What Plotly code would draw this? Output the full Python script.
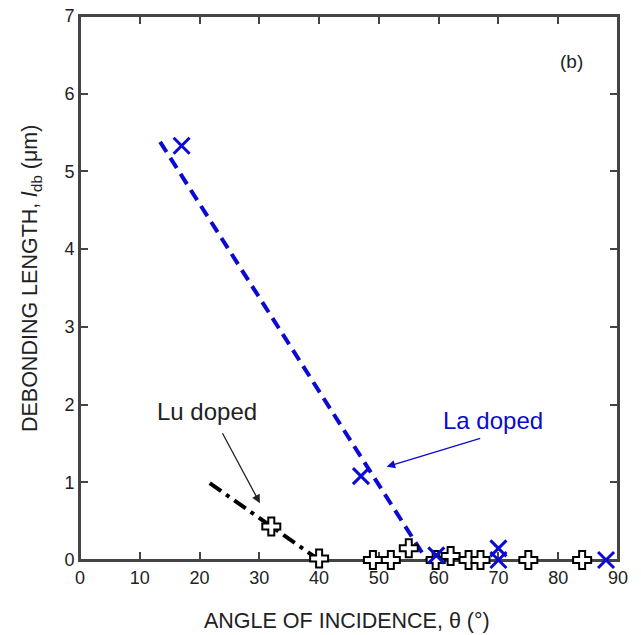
import plotly.graph_objects as go

# Data
lu_angle = [32, 40, 49, 52, 55, 59.5, 62, 65, 67, 75, 84]
lu_length = [0.43, 0.02, 0.0, 0.0, 0.15, 0.0, 0.05, 0.0, 0.0, 0.0, 0.0]

la_angle = [17, 47, 59.6, 70, 70, 88]
la_length = [5.33, 1.08, 0.06, 0.15, 0.0, 0.0]

la_fit_x = [13.4, 58.0]
la_fit_y = [5.38, 0.0]
lu_fit_x = [21.7, 40.0]
lu_fit_y = [0.99, 0.0]

x_ticks = [0, 10, 20, 30, 40, 50, 60, 70, 80, 90]
y_ticks = [0, 1, 2, 3, 4, 5, 6, 7]

BLUE = "#0a0ad2"
FONT = "Liberation Sans, Arial, sans-serif"
TXT = "#222"
AXC = "#444"

fig = go.Figure()

fig.add_trace(go.Scatter(
    x=la_fit_x, y=la_fit_y, mode="lines",
    line=dict(color=BLUE, width=4, dash="12px,7px"),
    showlegend=False, hoverinfo="skip"))
fig.add_trace(go.Scatter(
    x=lu_fit_x, y=lu_fit_y, mode="lines",
    line=dict(color="black", width=4, dash="14px,6px,4px,6px"),
    showlegend=False, hoverinfo="skip"))

fig.add_trace(go.Scatter(
    x=lu_angle, y=lu_length, mode="markers", cliponaxis=False,
    marker=dict(symbol="cross", size=15, color="white",
                line=dict(color="black", width=2)),
    showlegend=False))
fig.add_trace(go.Scatter(
    x=la_angle, y=la_length, mode="markers", cliponaxis=False,
    marker=dict(symbol="x-thin", size=16, color=BLUE,
                line=dict(color=BLUE, width=3)),
    showlegend=False))

axis_common = dict(
    showline=True, linecolor=AXC, linewidth=2, mirror="ticks",
    ticks="inside", ticklen=8, tickwidth=2, tickcolor=AXC,
    showgrid=False, zeroline=False, layer="below traces",
    automargin=False, ticklabeloverflow="allow",
    tickfont=dict(family=FONT, size=18, color=TXT),
)

fig.update_xaxes(range=[0, 90], tickvals=x_ticks, **axis_common)
fig.update_yaxes(range=[0, 7], tickvals=y_ticks, **axis_common)

# plot frame
fig.add_shape(type="rect", xref="paper", yref="paper", x0=0, x1=1, y0=0, y1=1,
              line=dict(color=AXC, width=2), layer="below")

annotations = [
    # axis titles
    dict(x=0.497, y=-0.112, xref="paper", yref="paper",
         text="ANGLE OF INCIDENCE, θ (°)", showarrow=False,
         xanchor="center", yanchor="middle",
         font=dict(family=FONT, size=21.5, color=TXT)),
    dict(x=-0.091, y=0.5165, xref="paper", yref="paper", textangle=-90,
         text="DEBONDING LENGTH, <i>l</i><sub>db</sub> (μm)", showarrow=False,
         xanchor="center", yanchor="middle",
         font=dict(family=FONT, size=21.5, color=TXT)),
    # labels
    dict(x=21.2, y=1.91, text="Lu doped", showarrow=False,
         font=dict(family=FONT, size=24, color=TXT)),
    dict(x=30.1, y=0.73, ax=23.7, ay=1.65, axref="x", ayref="y", text="",
         showarrow=True, arrowhead=2, arrowsize=1.3, arrowwidth=1.3,
         arrowcolor=TXT),
    dict(x=69.1, y=1.80, text="La doped", showarrow=False,
         font=dict(family=FONT, size=24, color=BLUE)),
    dict(x=51.3, y=1.20, ax=67.2, ay=1.57, axref="x", ayref="y", text="",
         showarrow=True, arrowhead=2, arrowsize=1.3, arrowwidth=1.3,
         arrowcolor=BLUE),
    dict(x=82.2, y=6.41, text="(b)", showarrow=False,
         font=dict(family=FONT, size=19, color=TXT)),
]

# The page body has an 8px default margin, so the figure is sized and
# offset to place the plot area at the same window pixels as the reference.
fig.update_layout(
    width=633, height=627,
    margin=dict(l=72, r=23, t=8, b=75),
    plot_bgcolor="white", paper_bgcolor="white",
    annotations=annotations,
    font=dict(family=FONT),
)

fig.write_html("out.html")
